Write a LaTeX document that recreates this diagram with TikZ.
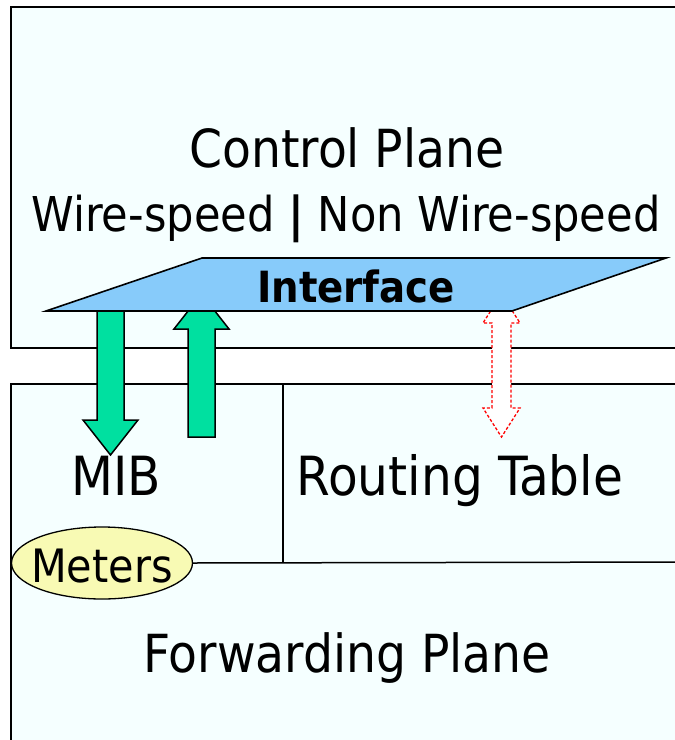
\documentclass[tikz,border=0pt]{standalone}
\usepackage{fontspec}
\setmainfont{DejaVu Sans Condensed}
\usetikzlibrary{shapes.geometric}
\definecolor{boxfill}{HTML}{F5FFFF}
\definecolor{ifacefill}{HTML}{87CBFA}
\definecolor{arrowgreen}{HTML}{00E0A0}
\definecolor{meterfill}{HTML}{F8FAB4}
\tikzset{
  planebox/.style={draw=black, line width=2.3pt, fill=boxfill},
  divider/.style={draw=black, line width=1.5pt},
  blockarrow/.style={draw=black, line width=1.5pt, fill=arrowgreen, line join=miter},
  dasharrow/.style={draw=red, line width=1.3pt, densely dashed, fill=white},
  iface/.style={draw=black, line width=1.6pt, fill=ifacefill, line join=miter},
  lbl/.style={inner sep=0pt, anchor=base, text=black},
  meters/.style={ellipse, draw=black, line width=1.3pt, fill=meterfill, minimum width=181pt, minimum height=72pt, inner sep=0pt}
}
\newcommand{\fs}[1]{\fontsize{#1}{#1}\selectfont}
\begin{document}
\begin{tikzpicture}[x=1pt, y=-1pt]
\useasboundingbox (0,0) rectangle (675,740);
% planes
\draw[planebox] (11,7) rectangle (690,348);
\draw[planebox] (11,384) rectangle (690,760);
% divider inside forwarding plane
\coordinate (divtop) at (283,384);
\coordinate (divbot) at (283,562);
\coordinate (hright) at (690,562);
\draw[divider] (divtop) -- (divbot);
% arrows (behind the interface)
\draw[blockarrow] (97,300) -- (124,300) -- (124,420) -- (138,420) -- (110.5,455) -- (83,420) -- (97,420) -- cycle;
\draw[blockarrow] (188,437) -- (215,437) -- (215,329) -- (229,329) -- (201.5,294) -- (174,329) -- (188,329) -- cycle;
\draw[dasharrow] (501.5,294) -- (520,323) -- (511,323) -- (511,408) -- (520,408) -- (501.5,437) -- (483,408) -- (492,408) -- (492,323) -- (483,323) -- cycle;
% interface
\draw[iface] (202,258) -- (666,258) -- (512,311) -- (46,311) -- cycle;
\node[lbl] (iftext) at (356,302) {\fs{43}\bfseries Interface};
% texts
\node[lbl] (cp) at (347,167) {\fs{52.5}Control Plane};
\node[lbl] (ws) at (346,231) {\fs{48}Wire-speed {\bfseries |} Non Wire-speed};
\node[lbl] (mib) at (116,495) {\fs{54}MIB};
\node[lbl] (rt) at (460,495) {\fs{54}Routing Table};
\node[lbl] (fp) at (347,672) {\fs{52.5}Forwarding Plane};
% meters
\node[meters] (met) at (102,563) {};
\node[lbl] (mettext) at (102,582) {\fs{46}Meters};
\draw[divider] (met.east) -- (hright);
\end{tikzpicture}
\end{document}
